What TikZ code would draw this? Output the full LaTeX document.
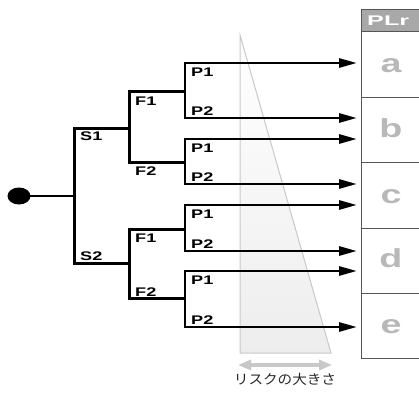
\documentclass[tikz,border=0pt]{standalone}
\usepackage{fontspec}
\setmainfont{Liberation Sans}
\newfontfamily\lblfont[FakeStretch=1.45]{Liberation Sans Bold}
\newfontfamily\hdrfont[FakeStretch=1.8]{Liberation Sans Bold}
\newfontfamily\rowfont[FakeStretch=1.45]{Liberation Sans Bold}
\newfontfamily\jpfont[FakeStretch=1.08]{Noto Sans CJK JP}
\usetikzlibrary{arrows.meta,shapes.geometric}
\definecolor{rowgray}{HTML}{B8B8B8}
\definecolor{hdrgray}{HTML}{A8A8A8}
\definecolor{tablegray}{HTML}{555555}
\definecolor{trigray}{HTML}{C8C8C8}
\begin{document}
\begin{tikzpicture}[x=1pt,y=-1pt,
  tree/.style={line width=3pt, line join=miter},
  arr/.style={line width=2.8pt, line join=miter, {Triangle[length=18pt,width=9pt]}-{Triangle[length=18pt,width=9pt]}},
  lbl/.style={font=\lblfont\fontsize{12.5}{12.5}\selectfont, anchor=base west, inner sep=0pt},
  rowlbl/.style={font=\rowfont\fontsize{26}{26}\selectfont, text=rowgray, anchor=base, inner sep=0pt},
  tbl/.style={draw=tablegray, line width=0.8pt}
]
\useasboundingbox (0,0) rectangle (419,394);

% risk wedge
\shade[top color=white, bottom color=gray!14] (240,35) -- (240,353) -- (331,353) -- cycle;
\draw[trigray, line width=1pt] (240,35) -- (240,353) -- (331,353) -- cycle;
\coordinate (rl) at (238,365);
\coordinate (rr) at (332,365);
\draw[trigray, line width=3.5pt, {Triangle[length=13pt,width=10pt]}-{Triangle[length=13pt,width=10pt]}] (rl) -- (rr);
\node[font=\jpfont\fontsize{13.5}{13.5}\selectfont, text=black!85] (risk) at (285,379) {リスクの大きさ};

% table
\fill[hdrgray] (361,9) rectangle (419,31);
\node[font=\hdrfont\fontsize{14}{14}\selectfont, text=white, anchor=base west, inner sep=0pt] (plr) at (367,25) {PLr};
\draw[tbl] (361,9) -- (361,358);
\draw[tbl] (361,9) -- (419,9);
\foreach \yy in {31,97,162,228,293,358} \draw[tbl] (361,\yy) -- (419,\yy);
\node[rowlbl] (ra) at (391,72) {a};
\node[rowlbl] (rb) at (391,137) {b};
\node[rowlbl] (rc) at (391,203) {c};
\node[rowlbl] (rd) at (391,267) {d};
\node[rowlbl] (re) at (391,333) {e};

% tree coordinates
\node[ellipse, fill=black, minimum width=23pt, minimum height=17pt, inner sep=0pt] (dot) at (19,196) {};
\coordinate (s) at (74,196);
\coordinate (s1) at (74,128);
\coordinate (s2) at (74,263);
\coordinate (fa) at (129,128);
\coordinate (fb) at (129,263);
\coordinate (fa1) at (129,91);
\coordinate (fa2) at (129,162);
\coordinate (fb1) at (129,229);
\coordinate (fb2) at (129,298);
\coordinate (pa) at (185,91);
\coordinate (pb) at (185,162);
\coordinate (pc) at (185,229);
\coordinate (pd) at (185,298);
\coordinate (pa1) at (185,63);
\coordinate (pa2) at (185,118);
\coordinate (pb1) at (185,139);
\coordinate (pb2) at (185,184);
\coordinate (pc1) at (185,205);
\coordinate (pc2) at (185,251);
\coordinate (pd1) at (185,271);
\coordinate (pd2) at (185,327);
\foreach \n/\yy in {1/63,2/118,3/139,4/184,5/205,6/251,7/271,8/327}
  \coordinate (e\n) at (357,\yy);

\draw[line width=2pt] (dot.center) -- (s);
\draw[tree] (fa) -- (s1) -- (s2) -- (fb);
\draw[tree] (pa) -- (fa1) -- (fa2) -- (pb);
\draw[tree] (pc) -- (fb1) -- (fb2) -- (pd);
\draw[arr] (e1) -- (pa1) -- (pa2) -- (e2);
\draw[arr] (e3) -- (pb1) -- (pb2) -- (e4);
\draw[arr] (e5) -- (pc1) -- (pc2) -- (e6);
\draw[arr] (e7) -- (pd1) -- (pd2) -- (e8);

% labels
\node[lbl] (ls1) at (80,140) {S1};
\node[lbl] (ls2) at (80,260) {S2};
\node[lbl] (lf1a) at (135,105) {F1};
\node[lbl] (lf2a) at (135,175) {F2};
\node[lbl] (lf1b) at (135,242) {F1};
\node[lbl] (lf2b) at (135,296) {F2};
\node[lbl] (lp1a) at (191,76) {P1};
\node[lbl] (lp2a) at (191,115) {P2};
\node[lbl] (lp1b) at (191,152) {P1};
\node[lbl] (lp2b) at (191,181) {P2};
\node[lbl] (lp1c) at (191,218) {P1};
\node[lbl] (lp2c) at (191,248) {P2};
\node[lbl] (lp1d) at (191,284) {P1};
\node[lbl] (lp2d) at (191,324) {P2};
\end{tikzpicture}
\end{document}
